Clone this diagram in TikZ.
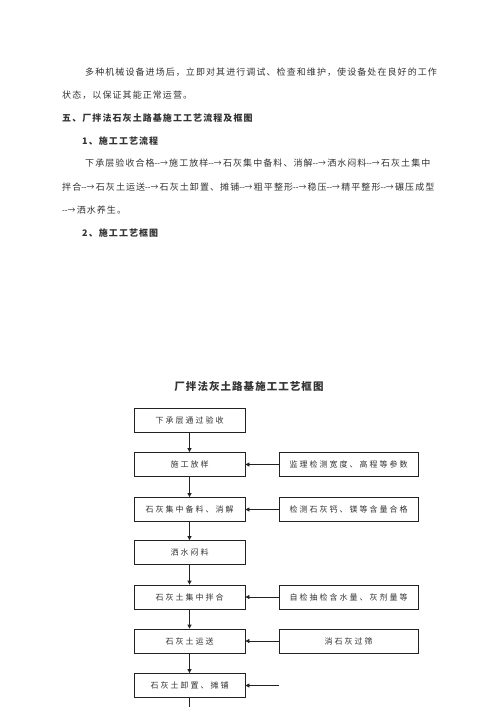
\documentclass[tikz,border=0pt]{standalone}
\usepackage{fontspec}
\usepackage{graphicx}
\usetikzlibrary{arrows.meta}
\newfontfamily\bodyf[LetterSpace=12]{Noto Sans CJK SC}
\newfontfamily\arrf{Noto Sans CJK SC}
\newfontfamily\boxf[LetterSpace=25]{Noto Sans CJK SC}
\newfontfamily\titlef[LetterSpace=10]{Noto Sans CJK SC}
\newcommand\flowarr{\scalebox{0.87}[1]{\arrf --→}\kern1.3pt}
\definecolor{ink}{HTML}{333333}
\definecolor{lineink}{HTML}{222222}
\tikzset{
  bodytext/.style={anchor=west, inner sep=0pt, text=ink, font=\bodyf\fontsize{9}{9}\selectfont},
  headtext/.style={anchor=west, inner sep=0pt, text=ink, font=\bodyf\bfseries\fontsize{9}{9}\selectfont},
  titletext/.style={inner sep=0pt, text=ink, font=\titlef\bfseries\fontsize{10.5}{10.5}\selectfont},
  lbox/.style={draw=lineink, line width=0.8pt, minimum width=111pt, minimum height=24pt, inner sep=0pt, text=ink, font=\boxf\fontsize{8}{8}\selectfont},
  rbox/.style={draw=lineink, line width=0.8pt, minimum width=139pt, minimum height=24pt, inner sep=0pt, text=ink, font=\boxf\fontsize{8}{8}\selectfont},
  arr/.style={draw=lineink, line width=0.8pt, -{Triangle[length=4pt,width=4pt]}},
  plain/.style={draw=lineink, line width=0.8pt}
}
\begin{document}
\begin{tikzpicture}[x=1pt,y=-1pt]
\useasboundingbox (0,0) rectangle (500,707);
\fill[white] (0,0) rectangle (500,707);

\node[bodytext] (t1) at (85,72) {多种机械设备进场后，立即对其进行调试、检查和维护，使设备处在良好的工作};
\node[bodytext] (t2) at (62,95) {状态，以保证其能正常运营。};
\node[headtext] (t3) at (62,118) {五、厂拌法石灰土路基施工工艺流程及框图};
\node[headtext] (t4) at (82,141) {1、施工工艺流程};
\node[bodytext] (t5) at (85,163) {下承层验收合格\flowarr 施工放样\flowarr 石灰集中备料、消解\flowarr 洒水闷料\flowarr 石灰土集中};
\node[bodytext] (t6) at (62,187) {拌合\flowarr 石灰土运送\flowarr 石灰土卸置、摊铺\flowarr 粗平整形\flowarr 稳压\flowarr 精平整形\flowarr 碾压成型};
\node[bodytext] (t7) at (62,210) {\flowarr 洒水养生。};
\node[headtext] (t8) at (82,233) {2、施工工艺框图};

\node[titletext] (title) at (249,387) {厂拌法灰土路基施工工艺框图};

\node[lbox] (b1) at (189.5,420) {下承层通过验收};
\node[lbox] (b2) at (189.5,464.5) {施工放样};
\node[lbox] (b3) at (189.5,509.5) {石灰集中备料、消解};
\node[lbox] (b4) at (189.5,552.5) {洒水闷料};
\node[lbox] (b5) at (189.5,597) {石灰土集中拌合};
\node[lbox] (b6) at (189.5,641) {石灰土运送};
\node[lbox] (b7) at (189.5,685.5) {石灰土卸置、摊铺};

\node[rbox] (r2) at (348.5,464.5) {监理检测宽度、高程等参数};
\node[rbox] (r3) at (348.5,509.5) {检测石灰钙、镁等含量合格};
\node[rbox] (r5) at (348.5,597) {自检抽检含水量、灰剂量等};
\node[rbox] (r6) at (348.5,641) {消石灰过筛};

\coordinate (c7) at (279,685.5);
\coordinate (bot) at (189.5,707);

\draw[arr] (b1) -- (b2);
\draw[arr] (b2) -- (b3);
\draw[arr] (b3) -- (b4);
\draw[arr] (b4) -- (b5);
\draw[arr] (b5) -- (b6);
\draw[arr] (b6) -- (b7);
\draw[plain] (b7.south) -- (bot);

\draw[arr] (r2) -- (b2);
\draw[arr] (r3) -- (b3);
\draw[arr] (r5) -- (b5);
\draw[arr] (r6) -- (b6);
\draw[arr] (c7) -- (b7.east);
\end{tikzpicture}
\end{document}
